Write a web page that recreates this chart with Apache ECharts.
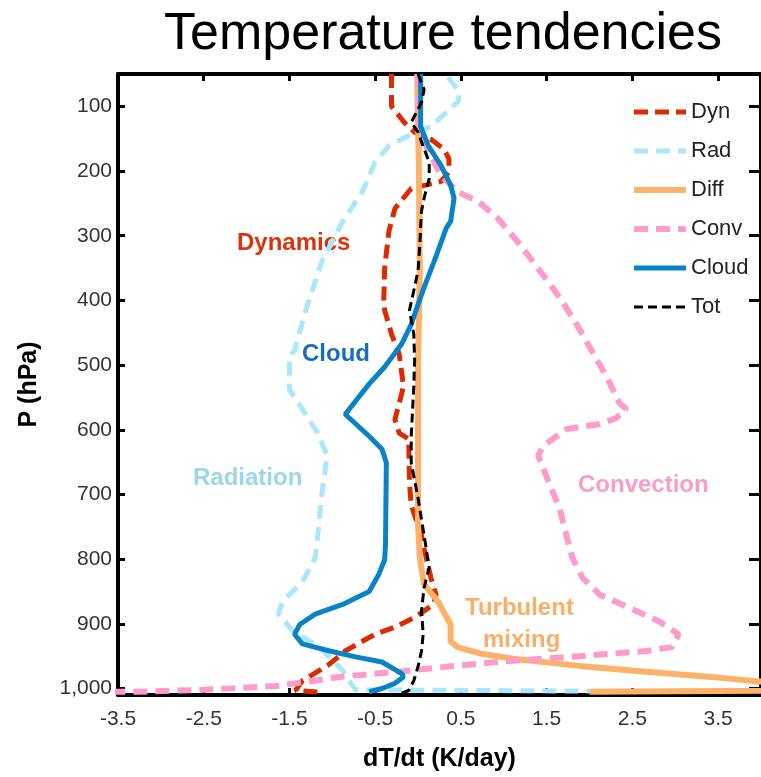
<!DOCTYPE html>
<html>
<head>
<meta charset="utf-8">
<title>Temperature tendencies</title>
<script src="https://cdn.jsdelivr.net/npm/echarts@6/dist/echarts.min.js"></script>
<style>
  html, body { margin: 0; padding: 0; background: #fff; }
  #main { width: 761px; height: 777px; }
</style>
</head>
<body>
<div id="main"></div>
<script>
// tick positions
var xTicks = [-3.5, -2.5, -1.5, -0.5, 0.5, 1.5, 2.5, 3.5];
var yTicks = [100, 200, 300, 400, 500, 600, 700, 800, 900, 1000];

// profiles, [dT/dt (K/day), P (hPa)]
var dyn = [
  [-0.31, 50], [-0.31, 100], [-0.16, 125], [-0.04, 140], [0.15, 151], [0.30, 166],
  [0.36, 181], [0.36, 201], [0.27, 216], [-0.08, 227], [-0.27, 258], [-0.34, 293],
  [-0.39, 350], [-0.40, 400], [-0.39, 415], [-0.31, 452], [-0.22, 483], [-0.17, 533],
  [-0.23, 564], [-0.27, 584], [-0.22, 605], [-0.11, 614], [-0.10, 682], [-0.08, 717],
  [0.04, 763], [0.06, 778], [0.15, 829], [0.21, 855], [0.18, 870], [-0.04, 890],
  [-0.27, 905], [-0.50, 916], [-0.65, 927], [-0.85, 942], [-1.03, 962], [-1.15, 972],
  [-1.35, 988], [-1.43, 1003], [-1.10, 1006]
];
var rad = [
  [0.35, 55], [0.48, 77], [0.47, 92], [0.15, 131], [-0.08, 143], [-0.34, 161],
  [-0.50, 186], [-0.65, 232], [-0.88, 278], [-1.12, 339], [-1.31, 415], [-1.44, 477],
  [-1.50, 487], [-1.50, 538], [-1.35, 568], [-1.17, 605], [-1.06, 640], [-1.12, 697],
  [-1.17, 763], [-1.20, 798], [-1.35, 835], [-1.58, 865], [-1.63, 885], [-1.46, 911],
  [-1.15, 936], [-0.88, 972], [-0.73, 1002], [2.0, 1004]
];
var diff = [
  [-0.01, 50], [0.01, 200], [0.02, 350], [0.0, 500], [0.0, 747], [0.02, 798],
  [0.07, 839], [0.23, 865], [0.38, 901], [0.38, 927], [0.46, 936], [0.73, 946],
  [1.11, 954], [1.88, 965], [2.66, 974], [3.42, 982], [3.97, 989], [12.0, 998],
  [2.0, 1005]
];
var conv = [
  [0.0, 50], [0.0, 120], [0.05, 145], [0.12, 170], [0.27, 207], [0.46, 232],
  [0.70, 247], [0.93, 273], [1.19, 314], [1.42, 354], [1.65, 395], [1.85, 437],
  [2.00, 472], [2.20, 518], [2.35, 559], [2.43, 568], [2.31, 582], [2.12, 591],
  [1.73, 599], [1.46, 625], [1.40, 640], [1.54, 686], [1.65, 721], [1.73, 763],
  [1.80, 798], [1.92, 829], [2.12, 855], [2.46, 875], [2.81, 896], [3.04, 916],
  [2.96, 936], [2.66, 942], [1.88, 950], [1.11, 957], [0.35, 966], [-0.23, 974],
  [-0.85, 981], [-1.27, 989], [-1.66, 996], [-2.50, 1002], [-3.27, 1005], [-3.6, 1005]
];
var cloud = [
  [0.03, 50], [0.03, 131], [0.12, 161], [0.27, 192], [0.38, 222], [0.42, 242],
  [0.38, 278], [0.33, 288], [0.19, 339], [0.07, 380], [0.00, 406], [-0.08, 437],
  [-0.19, 467], [-0.39, 503], [-0.57, 529], [-0.85, 576], [-0.57, 610], [-0.42, 630],
  [-0.37, 651], [-0.38, 778], [-0.39, 801], [-0.46, 824], [-0.57, 850], [-0.88, 870],
  [-1.20, 885], [-1.38, 901], [-1.44, 916], [-1.35, 931], [-1.03, 942], [-0.73, 951],
  [-0.42, 959], [-0.19, 977], [-0.17, 982], [-0.27, 992], [-0.42, 1000], [-0.57, 1005]
];
var tot = [
  [0.0, 50], [0.07, 74], [0.04, 94], [-0.08, 125], [0.00, 140], [0.07, 166],
  [0.13, 186], [0.13, 212], [0.07, 242], [0.04, 262], [0.02, 314], [0.00, 354],
  [-0.05, 385], [-0.10, 415], [-0.05, 452], [-0.04, 492], [-0.05, 533], [-0.08, 610],
  [-0.08, 651], [0.00, 706], [0.07, 763], [0.13, 813], [0.07, 844], [0.04, 880],
  [0.06, 916], [0.04, 942], [0.00, 966], [-0.05, 988], [-0.11, 1003], [-0.19, 1007]
];

var font = '"Liberation Sans", Arial, Helvetica, sans-serif';

var myChart = echarts.init(document.getElementById('main'));

function profile(name, data, color, width, dash) {
  return {
    name: name,
    type: 'line',
    data: data,
    symbol: 'none',
    clip: true,
    color: color,
    lineStyle: { color: color, width: width, type: dash || 'solid', cap: 'butt' }
  };
}

function frameAxis(pos) {
  return {
    position: pos,
    axisLine: { show: true, onZero: false, lineStyle: { color: '#000', width: 4 } },
    splitLine: { show: false }
  };
}

var option = {
  animation: false,
  backgroundColor: '#fff',
  title: {
    text: 'Temperature tendencies',
    left: 438,
    top: 4,
    textAlign: 'center',
    textStyle: { fontFamily: font, fontSize: 52, fontWeight: 'normal', color: '#000' }
  },
  grid: { left: 118, right: -6, top: 74, bottom: 75 },
  legend: {
    orient: 'vertical',
    left: 626,
    top: 96,
    itemWidth: 52,
    itemHeight: 16,
    itemGap: 17,
    itemStyle: { opacity: 0 },
    lineStyle: { width: 'inherit' },
    textStyle: { fontFamily: font, fontSize: 22, color: '#222' },
    data: ['Dyn', 'Rad', 'Diff', 'Conv', 'Cloud', 'Tot']
  },
  xAxis: [
    Object.assign(frameAxis('bottom'), {
      type: 'value', min: -3.5, max: 4,
      name: 'dT/dt (K/day)', nameLocation: 'middle', nameGap: 52,
      nameTextStyle: { fontFamily: font, fontSize: 25, fontWeight: 'bold', color: '#000' },
      axisTick: { show: true, inside: true, length: 7, customValues: xTicks, lineStyle: { color: '#000', width: 3 } },
      axisLabel: { customValues: xTicks, margin: 14, fontFamily: font, fontSize: 21, color: '#333' }
    }),
    Object.assign(frameAxis('top'), {
      type: 'value', min: -3.5, max: 4,
      axisTick: { show: true, inside: true, length: 7, customValues: xTicks, lineStyle: { color: '#000', width: 3 } },
      axisLabel: { show: false }
    })
  ],
  yAxis: [
    Object.assign(frameAxis('left'), {
      type: 'value', min: 50, max: 1010, inverse: true,
      name: 'P (hPa)', nameLocation: 'middle', nameGap: 76,
      nameTextStyle: { fontFamily: font, fontSize: 25, fontWeight: 'bold', color: '#000' },
      axisTick: { show: true, inside: true, length: 7, customValues: yTicks, lineStyle: { color: '#000', width: 3 } },
      axisLabel: {
        customValues: yTicks, margin: 6, fontFamily: font, fontSize: 21, color: '#333',
        formatter: function (v) { return v >= 1000 ? '1,' + String(v).slice(1) : String(v); }
      }
    }),
    Object.assign(frameAxis('right'), {
      type: 'value', min: 50, max: 1010, inverse: true,
      axisTick: { show: true, inside: true, length: 12, customValues: yTicks, lineStyle: { color: '#000', width: 3 } },
      axisLabel: { show: false }
    })
  ],
  graphic: [
    { type: 'text', left: 237, top: 231, style: { text: 'Dynamics', fill: '#d8350d', font: 'bold 24px ' + font } },
    { type: 'text', left: 302, top: 342, style: { text: 'Cloud', fill: '#1470bd', font: 'bold 24px ' + font } },
    { type: 'text', left: 193, top: 466, style: { text: 'Radiation', fill: '#9ad7ec', font: 'bold 24px ' + font } },
    { type: 'text', left: 578, top: 473, style: { text: 'Convection', fill: '#f99cca', font: 'bold 24px ' + font } },
    { type: 'text', left: 465, top: 596, style: { text: 'Turbulent', fill: '#fbae68', font: 'bold 24px ' + font } },
    { type: 'text', left: 483, top: 628, style: { text: 'mixing', fill: '#fbae68', font: 'bold 24px ' + font } }
  ],
  series: [
    profile('Dyn', dyn, '#db2b00', 5, [14, 7]),
    profile('Rad', rad, '#aae7fb', 5, [14, 8]),
    profile('Diff', diff, '#fdb169', 6),
    profile('Conv', conv, '#fb9cca', 6, [14, 8]),
    profile('Cloud', cloud, '#0a83c6', 5),
    profile('Tot', tot, '#000000', 3, [9, 5])
  ]
};

myChart.setOption(option);
</script>
</body>
</html>
